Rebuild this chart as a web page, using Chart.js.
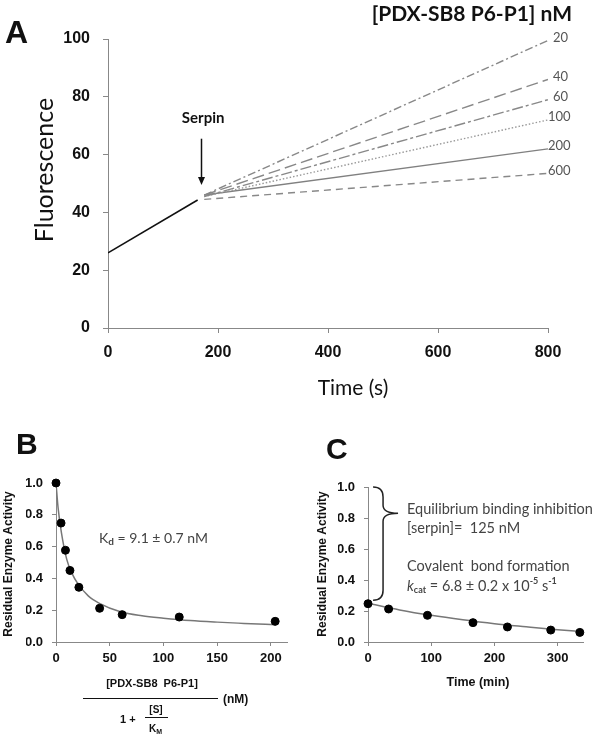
<!DOCTYPE html>
<html>
<head>
<meta charset="utf-8">
<script src="https://cdn.jsdelivr.net/npm/chart.js@4.4.0/dist/chart.umd.min.js"></script>
<style>
    body { margin: 0; background: #fff; width: 600px; height: 739px; position: relative; overflow: hidden; }
    canvas { position: absolute; }
    #chart-a { left: 0; top: 0; }
    #chart-b { left: 0; top: 400px; }
    #chart-c { left: 300px; top: 400px; }
</style>
</head>
<body>
<canvas id="chart-a" width="600" height="400"></canvas>
<canvas id="chart-b" width="300" height="339"></canvas>
<canvas id="chart-c" width="300" height="339"></canvas>
<script>
// Panel A: progress curves, serpin added at ~170 s
const initialTime = [0, 163];
const initialFluor = [26, 44.3];
const concLabels = ['20', '40', '60', '100', '200', '600'];
const serpinTime = 170;
const afterTime = [175, 800];
const startFluor = [46, 46, 45.5, 45.5, 46, 44.5];
const endFluor = [99.5, 86, 79, 72, 62, 53.5];

// Panel B: residual activity vs effective serpin concentration
const bConc = [0, 4.7, 8.8, 13, 21.3, 40.6, 61.6, 114.7, 204];
const bActivity = [1.0, 0.748, 0.577, 0.45, 0.344, 0.212, 0.172, 0.157, 0.13];
const bFitConc = [0, 2, 5, 10, 15, 20, 30, 40, 60, 80, 100, 125, 150, 175, 205];
const bFitActivity = [1.0, 0.84, 0.69, 0.52, 0.43, 0.37, 0.29, 0.245, 0.19, 0.165, 0.15, 0.135, 0.125, 0.117, 0.108];

// Panel C: residual activity vs time
const cTime = [0, 32.6, 94, 166, 220.5, 289, 335];
const cActivity = [0.247, 0.213, 0.172, 0.125, 0.097, 0.077, 0.062];
const cFitTime = [0, 50, 100, 150, 200, 250, 300, 340];
const cFitActivity = [0.25, 0.207, 0.172, 0.143, 0.118, 0.098, 0.079, 0.066];

// line styles for panel A (by concentration)
const lineDashes = [[8, 3, 2, 3], [12, 5], [11, 3, 3, 3], [1.5, 2], [], [7, 5]];
const lineColors = ['#888', '#888', '#888', '#999', '#808080', '#888'];

const ARIAL = '"Liberation Sans", Arial, sans-serif';
const CALIBRI = 'Lato, sans-serif';

Chart.defaults.font.family = ARIAL;
Chart.defaults.animation = false;

function xy(xs, ys) {
    return xs.map((v, i) => ({ x: v, y: ys[i] }));
}

function axis(opts) {
    return {
        type: 'linear',
        min: opts.min,
        max: opts.max,
        afterFit: opts.fit,
        grid: { drawOnChartArea: false, drawTicks: true, tickLength: opts.tickLength, color: '#888' },
        border: { display: true, color: '#888' },
        ticks: {
            stepSize: opts.step,
            includeBounds: false,
            padding: opts.padding,
            color: '#111',
            font: { size: opts.fontSize, weight: 'bold' },
            callback: opts.format || (v => v)
        }
    };
}

function drawArrow(ctx, x, y1, y2) {
    ctx.beginPath();
    ctx.moveTo(x, y1);
    ctx.lineTo(x, y2 - 6);
    ctx.stroke();
    ctx.beginPath();
    ctx.moveTo(x - 3.5, y2 - 8);
    ctx.lineTo(x + 3.5, y2 - 8);
    ctx.lineTo(x, y2);
    ctx.closePath();
    ctx.fill();
}

function rotatedText(ctx, text, x, y, font, color) {
    ctx.save();
    ctx.translate(x, y);
    ctx.rotate(-Math.PI / 2);
    ctx.font = font;
    ctx.fillStyle = color;
    ctx.textAlign = 'center';
    ctx.textBaseline = 'middle';
    ctx.fillText(text, 0, 0);
    ctx.restore();
}

// draw runs of [text, font, dy] left to right
function textRuns(ctx, runs, x, y) {
    ctx.textAlign = 'left';
    ctx.textBaseline = 'middle';
    for (const [t, f, dy] of runs) {
        ctx.font = f;
        ctx.fillText(t, x, y + dy);
        x += ctx.measureText(t).width;
    }
}

const overlayA = {
    id: 'overlayA',
    afterDraw(chart) {
        const { ctx, scales: { x, y } } = chart;
        ctx.save();
        ctx.fillStyle = '#111';
        ctx.textBaseline = 'middle';

        ctx.font = 'bold 32px ' + ARIAL;
        ctx.textAlign = 'left';
        ctx.fillText('A', 5, 34);

        ctx.font = 'bold 21px ' + CALIBRI;
        ctx.textAlign = 'right';
        ctx.fillText('[PDX-SB8 P6-P1] nM', 572, 14);

        ctx.font = '13px ' + CALIBRI;
        ctx.fillStyle = '#555';
        ctx.textAlign = 'left';
        concLabels.forEach((lab, i) => {
            const px = x.getPixelForValue(afterTime[1]) + (lab.length > 2 ? 0 : 5);
            ctx.fillText(lab, px, y.getPixelForValue(endFluor[i]) - 3);
        });

        ctx.fillStyle = '#111';
        ctx.textAlign = 'center';
        ctx.font = 'bold 15px ' + CALIBRI;
        ctx.fillText('Serpin', x.getPixelForValue(serpinTime + 3), y.getPixelForValue(72.5));
        ctx.strokeStyle = '#111';
        ctx.lineWidth = 1.5;
        drawArrow(ctx, x.getPixelForValue(serpinTime), y.getPixelForValue(65.5), y.getPixelForValue(49.5));

        ctx.font = '21px ' + CALIBRI;
        ctx.fillText('Time (s)', 353, 388);
        rotatedText(ctx, 'Fluorescence', 45, 170, '25px ' + CALIBRI, '#111');
        ctx.restore();
    }
};

const overlayB = {
    id: 'overlayB',
    afterDraw(chart) {
        const { ctx } = chart;
        ctx.save();
        ctx.fillStyle = '#111';
        ctx.font = 'bold 30px ' + ARIAL;
        ctx.textAlign = 'left';
        ctx.textBaseline = 'middle';
        ctx.fillText('B', 16, 46);

        rotatedText(ctx, 'Residual Enzyme Activity', 9, 164, 'bold 12px ' + ARIAL, '#111');

        ctx.fillStyle = '#444';
        textRuns(ctx, [['K', '14px ' + CALIBRI, 0], ['d', 'bold 10px ' + CALIBRI, 4], [' = 9.1 \u00b1 0.7 nM', '14px ' + CALIBRI, 0]], 99, 138);

        // fraction-style axis title
        ctx.fillStyle = '#111';
        ctx.strokeStyle = '#111';
        ctx.lineWidth = 1;
        ctx.textAlign = 'center';
        ctx.font = 'bold 11px ' + ARIAL;
        ctx.fillText('[PDX-SB8  P6-P1]', 152, 284);
        ctx.beginPath(); ctx.moveTo(83, 298.5); ctx.lineTo(218, 298.5); ctx.stroke();
        ctx.textAlign = 'left';
        ctx.font = 'bold 12px ' + ARIAL;
        ctx.fillText('(nM)', 223, 300);
        ctx.font = 'bold 11px ' + ARIAL;
        ctx.fillText('1 +', 120, 320);
        ctx.textAlign = 'center';
        ctx.font = 'bold 10px ' + ARIAL;
        ctx.fillText('[S]', 156, 310);
        ctx.beginPath(); ctx.moveTo(145, 317.5); ctx.lineTo(168, 317.5); ctx.stroke();
        textRuns(ctx, [['K', 'bold 10px ' + ARIAL, 0], ['M', 'bold 7px ' + ARIAL, 3]], 149, 329);
        ctx.restore();
    }
};

const overlayC = {
    id: 'overlayC',
    afterDraw(chart) {
        const { ctx, scales: { x, y } } = chart;
        ctx.save();
        ctx.fillStyle = '#111';
        ctx.font = 'bold 30px ' + ARIAL;
        ctx.textAlign = 'left';
        ctx.textBaseline = 'middle';
        ctx.fillText('C', 26, 51);

        rotatedText(ctx, 'Residual Enzyme Activity', 23, 164, 'bold 12px ' + ARIAL, '#111');
        ctx.font = 'bold 12.5px ' + ARIAL;
        ctx.textAlign = 'center';
        ctx.fillText('Time (min)', 178, 283);

        // brace spanning the equilibrium-binding drop
        const bx = x.getPixelForValue(8);
        const top = y.getPixelForValue(1.0), mid = y.getPixelForValue(0.83), bot = y.getPixelForValue(0.27);
        const w = 10, tip = bx + 25;
        ctx.strokeStyle = '#222';
        ctx.lineWidth = 1.5;
        ctx.beginPath();
        ctx.moveTo(bx, top);
        ctx.quadraticCurveTo(bx + w, top, bx + w, top + 10);
        ctx.lineTo(bx + w, mid - 8);
        ctx.quadraticCurveTo(bx + w, mid, tip, mid);
        ctx.moveTo(tip, mid);
        ctx.quadraticCurveTo(bx + w, mid, bx + w, mid + 8);
        ctx.lineTo(bx + w, bot - 10);
        ctx.quadraticCurveTo(bx + w, bot, bx, bot);
        ctx.stroke();

        ctx.fillStyle = '#444';
        const tx = 107;
        const f = '14.5px ' + CALIBRI;
        textRuns(ctx, [['Equilibrium binding inhibition', f, 0]], tx, 109);
        textRuns(ctx, [['[serpin]=  125 nM', f, 0]], tx, 128);
        textRuns(ctx, [['Covalent  bond formation', f, 0]], tx, 166);
        textRuns(ctx, [
            ['k', 'italic 14.5px ' + CALIBRI, 0], ['cat', 'bold 9px ' + CALIBRI, 4],
            [' = 6.8 \u00b1 0.2 x 10', f, 0], ['-5', 'bold 9px ' + CALIBRI, -5],
            [' s', f, 0], ['-1', 'bold 9px ' + CALIBRI, -5]
        ], tx, 186);
        ctx.restore();
    }
};

const baseOptions = (layout, scales) => ({
    responsive: false,
    layout: { padding: layout },
    plugins: { legend: { display: false }, tooltip: { enabled: false } },
    scales: scales
});

const aDatasets = concLabels.map((lab, i) => ({
    label: lab + ' nM',
    data: xy(afterTime, [startFluor[i], endFluor[i]]),
    borderColor: lineColors[i],
    borderDash: lineDashes[i],
    borderWidth: 1.4,
    pointRadius: 0
}));
aDatasets.push({
    label: 'before serpin',
    data: xy(initialTime, initialFluor),
    borderColor: '#111',
    borderWidth: 1.6,
    pointRadius: 0
});

new Chart(document.getElementById('chart-a'), {
    type: 'line',
    data: { datasets: aDatasets },
    options: baseOptions({ left: 58, right: 52, top: 39, bottom: 22 }, {
        x: axis({ min: 0, max: 800, step: 200, tickLength: 5, padding: 10, fontSize: 16, fit: s => { s.height = 50; } }),
        y: axis({ min: 0, max: 100, step: 20, tickLength: 5, padding: 13, fontSize: 16, fit: s => { s.width = 50; } })
    }),
    plugins: [overlayA]
});

const fmt1 = v => v.toFixed(1);

new Chart(document.getElementById('chart-b'), {
    type: 'line',
    data: {
        datasets: [{
            label: 'data',
            data: xy(bConc, bActivity),
            showLine: false,
            pointRadius: 4,
            pointBackgroundColor: '#000',
            pointBorderColor: '#000',
            clip: false,
            order: 0
        }, {
            label: 'fit',
            data: xy(bFitConc, bFitActivity),
            borderColor: '#777',
            borderWidth: 1.5,
            pointRadius: 0,
            cubicInterpolationMode: 'monotone',
            order: 1
        }]
    },
    options: baseOptions({ left: 26, right: 13, top: 83, bottom: 57 }, {
        x: axis({ min: 0, max: 215, step: 50, tickLength: 4, padding: 5, fontSize: 13, fit: s => { s.height = 40; } }),
        y: axis({ min: 0, max: 1.0, step: 0.2, tickLength: 4, padding: 9, fontSize: 13, format: fmt1, fit: s => { s.width = 30; } })
    }),
    plugins: [overlayB]
});

new Chart(document.getElementById('chart-c'), {
    type: 'line',
    data: {
        datasets: [{
            label: 'data',
            data: xy(cTime, cActivity),
            showLine: false,
            pointRadius: 4,
            pointBackgroundColor: '#000',
            pointBorderColor: '#000',
            clip: false,
            order: 0
        }, {
            label: 'fit',
            data: xy(cFitTime, cFitActivity),
            borderColor: '#777',
            borderWidth: 1.5,
            pointRadius: 0,
            cubicInterpolationMode: 'monotone',
            order: 1
        }]
    },
    options: baseOptions({ left: 38, right: 17, top: 87, bottom: 57 }, {
        x: axis({ min: 0, max: 340, step: 100, tickLength: 4, padding: 5, fontSize: 13, fit: s => { s.height = 40; } }),
        y: axis({ min: 0, max: 1.0, step: 0.2, tickLength: 4, padding: 9, fontSize: 13, format: fmt1, fit: s => { s.width = 30; } })
    }),
    plugins: [overlayC]
});
</script>
</body>
</html>
